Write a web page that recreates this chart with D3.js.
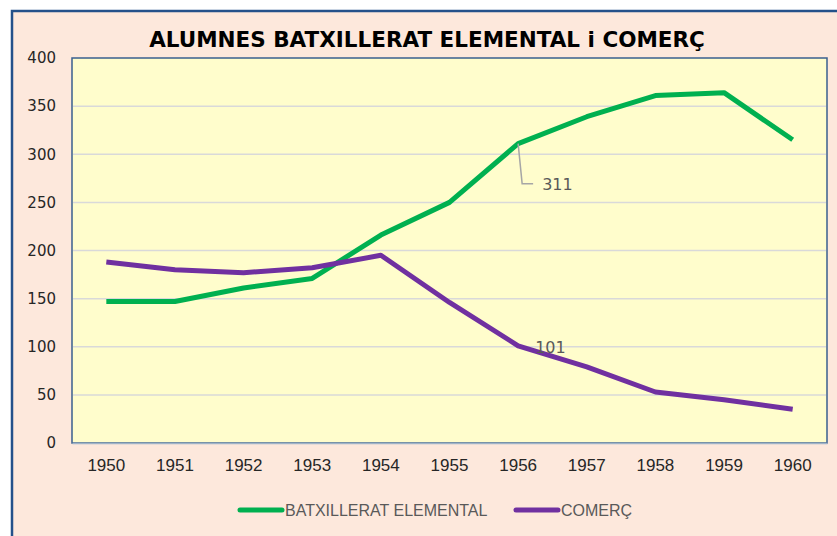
<!DOCTYPE html>
<html>
<head>
<meta charset="utf-8">
<script src="https://cdn.jsdelivr.net/npm/d3@7"></script>
<style>
    body { margin: 0; background: #ffffff; }
    svg { display: block; }
</style>
</head>
<body>
<div id="chart"></div>
<script>
// Chart data
const years = ['1950', '1951', '1952', '1953', '1954', '1955', '1956', '1957', '1958', '1959', '1960'];
const batxillerat = [147, 147, 161, 171, 216, 250, 311, 339, 361, 364, 315];
const comerc = [188, 180, 177, 182, 195, 146, 101, 79, 53, 45, 35];
const yTicks = [0, 50, 100, 150, 200, 250, 300, 350, 400];
const seriesNames = ['BATXILLERAT ELEMENTAL', 'COMERÇ'];
const seriesColors = ['#00b050', '#7030a0'];

const W = 837, H = 536;
const plot = { left: 72, top: 58, right: 827, bottom: 443 };

const svg = d3.select('#chart')
    .append('svg')
    .attr('width', W)
    .attr('height', H);

// Outer chart area
svg.append('rect')
    .attr('x', 12)
    .attr('y', 11)
    .attr('width', 840)
    .attr('height', 540)
    .attr('fill', '#fde8dc')
    .attr('stroke', '#24518a')
    .attr('stroke-width', 2.5);

// Plot area
svg.append('rect')
    .attr('x', plot.left)
    .attr('y', plot.top)
    .attr('width', plot.right - plot.left)
    .attr('height', plot.bottom - plot.top)
    .attr('fill', '#fffdcc')
    .attr('stroke', '#3a5f8f')
    .attr('stroke-width', 1.5);

// Scales
const x = d3.scaleBand()
    .domain(years)
    .range([plot.left, plot.right]);

const y = d3.scaleLinear()
    .domain([0, 400])
    .range([plot.bottom, plot.top]);

// Grid lines
svg.append('g')
    .selectAll('line')
    .data(yTicks.filter(d => d > 0 && d < 400))
    .enter()
    .append('line')
    .attr('x1', plot.left + 1)
    .attr('x2', plot.right - 1)
    .attr('y1', d => y(d))
    .attr('y2', d => y(d))
    .attr('stroke', '#d9d9d9')
    .attr('stroke-width', 1.5);

// Y axis
const yAxis = svg.append('g')
    .attr('transform', `translate(${plot.left},0)`)
    .call(d3.axisLeft(y).tickValues(yTicks).tickSize(0).tickPadding(16));
yAxis.select('.domain').remove();
yAxis.selectAll('text')
    .style('font-family', 'Verdana, "DejaVu Sans", sans-serif')
    .style('font-size', '15px')
    .style('fill', '#262626');

// X axis
const xAxis = svg.append('g')
    .attr('transform', `translate(0,${plot.bottom})`)
    .call(d3.axisBottom(x).tickSize(0).tickPadding(16));
xAxis.select('.domain')
    .attr('stroke', '#9fb3c8')
    .attr('stroke-width', 1.5);
xAxis.selectAll('text')
    .style('font-family', '"Liberation Sans", sans-serif')
    .style('font-size', '17px')
    .style('fill', '#262626');

// Lines
const line = d3.line()
    .x((d, i) => x(years[i]) + x.bandwidth() / 2)
    .y(d => y(d));

[batxillerat, comerc].forEach((s, k) => {
    svg.append('path')
        .datum(s)
        .attr('d', line)
        .attr('fill', 'none')
        .attr('stroke', seriesColors[k])
        .attr('stroke-width', 5)
        .attr('stroke-linejoin', 'round');
});

// Data labels
const i56 = years.indexOf('1956');
const px = x('1956') + x.bandwidth() / 2;
const py = y(batxillerat[i56]);
svg.append('polyline')
    .attr('points', `${px},${py} ${px + 4},${py + 40} ${px + 15},${py + 40}`)
    .attr('fill', 'none')
    .attr('stroke', '#a6a6a6')
    .attr('stroke-width', 1.5);
svg.append('text')
    .attr('x', px + 24)
    .attr('y', py + 46)
    .style('font-family', 'Verdana, "DejaVu Sans", sans-serif')
    .style('font-size', '16px')
    .style('fill', '#595959')
    .text(batxillerat[i56]);

svg.append('text')
    .attr('x', px + 17)
    .attr('y', y(comerc[i56]) + 7)
    .style('font-family', 'Verdana, "DejaVu Sans", sans-serif')
    .style('font-size', '16px')
    .style('fill', '#595959')
    .text(comerc[i56]);

// Title
svg.append('text')
    .attr('x', 427)
    .attr('y', 47)
    .attr('text-anchor', 'middle')
    .style('font-family', 'Verdana, "DejaVu Sans", sans-serif')
    .style('font-weight', 'bold')
    .style('font-size', '21.5px')
    .style('fill', '#000000')
    .text('ALUMNES BATXILLERAT ELEMENTAL i COMERÇ');

// Legend
const legendItems = [
    { x: 240, name: seriesNames[0], color: seriesColors[0] },
    { x: 516, name: seriesNames[1], color: seriesColors[1] }
];
const legend = svg.append('g').attr('class', 'legend');
legendItems.forEach(d => {
    legend.append('line')
        .attr('x1', d.x)
        .attr('x2', d.x + 42)
        .attr('y1', 510)
        .attr('y2', 510)
        .attr('stroke', d.color)
        .attr('stroke-width', 5)
        .attr('stroke-linecap', 'round');
    legend.append('text')
        .attr('x', d.x + 45)
        .attr('y', 516)
        .style('font-family', '"Liberation Sans", sans-serif')
        .style('font-size', '16px')
        .style('fill', '#595959')
        .text(d.name);
});
</script>
</body>
</html>
